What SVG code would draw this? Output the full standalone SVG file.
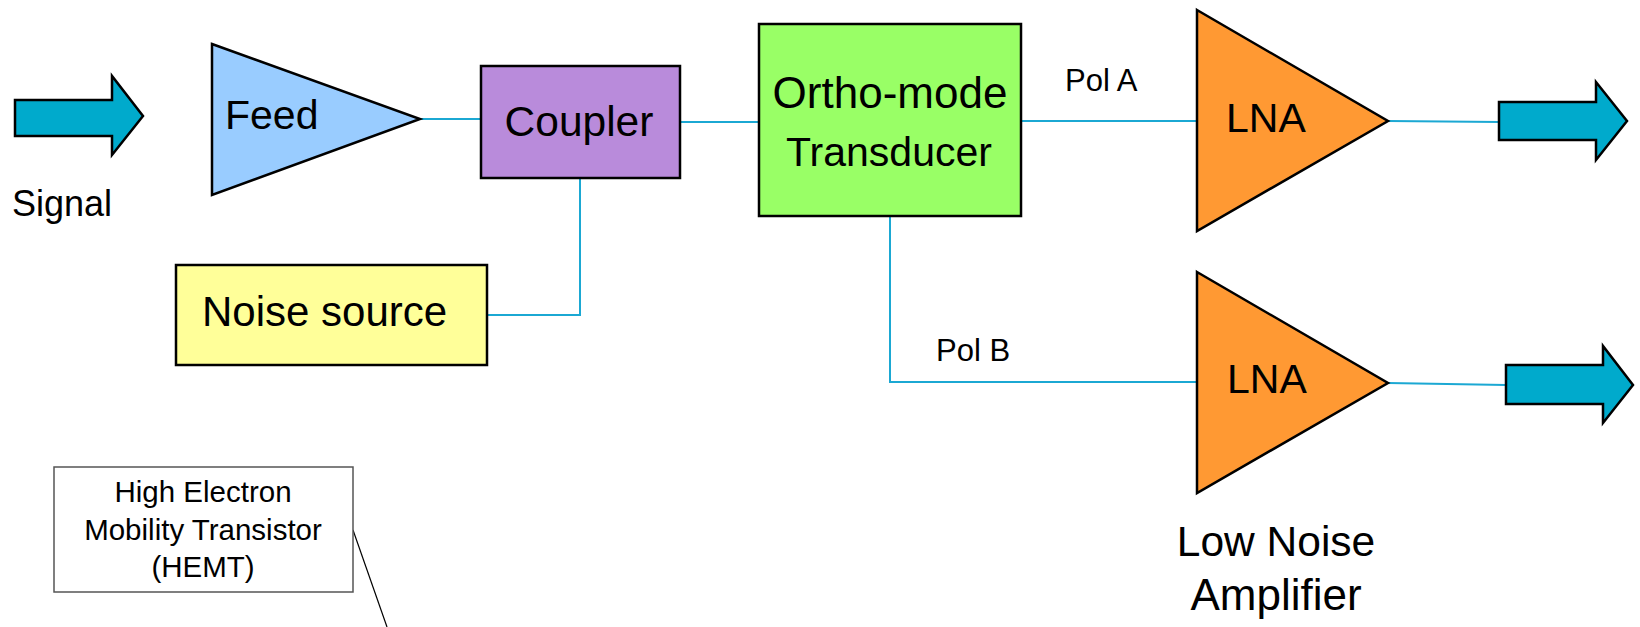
<svg xmlns="http://www.w3.org/2000/svg" width="1640" height="627" viewBox="0 0 1640 627">
<style>
text{font-family:"Liberation Sans",Arial,sans-serif;fill:#000}
.big{font-size:41px}
.lbl{font-size:31px}
.small{font-size:29.5px}
.arrow{fill:#00aacc;stroke:#000;stroke-width:2.5;stroke-linejoin:miter}
.blk{stroke:#000;stroke-width:2.5}
.conn{fill:none;stroke:#1ba8d3;stroke-width:2}
</style>
<rect width="1640" height="627" fill="#fff"/>
<g id="connectors">
<line class="conn" x1="420" y1="119" x2="481" y2="119"/>
<line class="conn" x1="680" y1="122" x2="759" y2="122"/>
<polyline class="conn" points="580,178 580,315 487,315"/>
<line class="conn" x1="1021" y1="121" x2="1197" y2="121"/>
<polyline class="conn" points="890,216 890,382 1197,382"/>
<line class="conn" x1="1388" y1="121" x2="1500" y2="122"/>
<line class="conn" x1="1388" y1="383" x2="1506" y2="385"/>
<line x1="353" y1="530" x2="387" y2="627" stroke="#000" stroke-width="1.2"/>
</g>
<g id="signal-in">
<polygon class="arrow" points="15,100 112,100 112,76 143,116 112,155 112,136 15,136"/>
<text x="12" y="216" style="font-size:36px">Signal</text>
</g>
<g id="feed">
<polygon class="blk" fill="#99ccff" points="212,44 420,119 212,195"/>
<text class="big" x="225" y="129">Feed</text>
</g>
<g id="coupler">
<rect class="blk" x="481" y="66" width="199" height="112" fill="#b98bdb"/>
<text class="big" x="579" y="136" text-anchor="middle" style="font-size:42.5px">Coupler</text>
</g>
<g id="noise-source">
<rect class="blk" x="176" y="265" width="311" height="100" fill="#ffff99" stroke-width="1.5"/>
<text class="big" x="202" y="326" style="font-size:42px">Noise source</text>
</g>
<g id="omt">
<rect class="blk" x="759" y="24" width="262" height="192" fill="#99ff66"/>
<text class="big" x="890" y="108" text-anchor="middle" style="font-size:44px">Ortho-mode</text>
<text class="big" x="889" y="166" text-anchor="middle">Transducer</text>
</g>
<text class="lbl" x="1065" y="91">Pol A</text>
<text class="lbl" x="936" y="361">Pol B</text>
<g id="lna-a">
<polygon class="blk" fill="#ff9933" stroke-width="2" points="1197,10 1388,121 1197,231"/>
<text class="big" x="1226" y="132">LNA</text>
</g>
<g id="lna-b">
<polygon class="blk" fill="#ff9933" stroke-width="2" points="1197,272 1388,383 1197,493"/>
<text class="big" x="1227" y="393">LNA</text>
</g>
<g id="out-a">
<polygon class="arrow" points="1499,102 1596,102 1596,82 1627,121 1596,160 1596,140 1499,140"/>
</g>
<g id="out-b">
<polygon class="arrow" points="1506,365 1603,365 1603,346 1633,385 1603,423 1603,404 1506,404"/>
</g>
<g id="lna-label">
<text class="big" x="1276" y="556" text-anchor="middle" style="font-size:42.5px">Low Noise</text>
<text class="big" x="1276" y="610" text-anchor="middle" style="font-size:44px">Amplifier</text>
</g>
<g id="hemt">
<rect x="54" y="467" width="299" height="125" fill="#fff" stroke="#555" stroke-width="1.5"/>
<text class="small" x="203" y="502" text-anchor="middle">High Electron</text>
<text class="small" x="203" y="540" text-anchor="middle">Mobility Transistor</text>
<text class="small" x="203" y="577" text-anchor="middle">(HEMT)</text>
</g>
</svg>
